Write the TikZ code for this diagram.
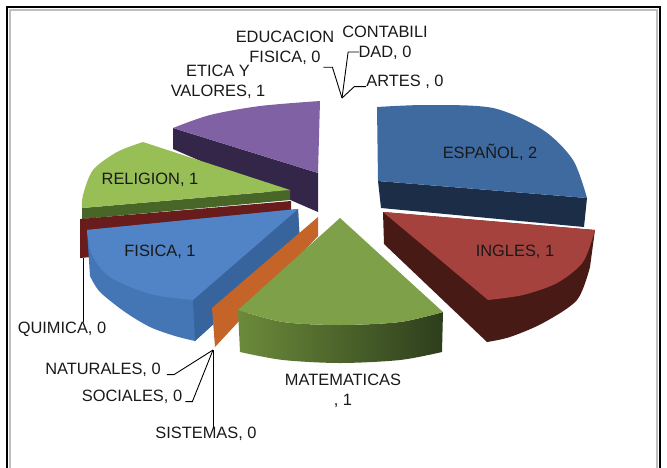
\documentclass[tikz,border=0pt]{standalone}
\usepackage{fontspec}
\setmainfont{Liberation Sans}
\usepackage{xcolor}
\definecolor{espTop}{RGB}{62,106,160}
\definecolor{espSide}{RGB}{28,45,72}
\definecolor{ingTop}{RGB}{166,66,62}
\definecolor{ingSide}{RGB}{72,26,22}
\definecolor{matTop}{RGB}{125,160,72}
\definecolor{matSideL}{RGB}{108,138,58}
\definecolor{matSideR}{RGB}{45,62,28}
\definecolor{fisTop}{RGB}{80,132,198}
\definecolor{fisSide}{RGB}{68,118,182}
\definecolor{fisCut}{RGB}{56,100,158}
\definecolor{quimSide}{RGB}{105,28,28}
\definecolor{relTop}{RGB}{152,190,86}
\definecolor{relSide}{RGB}{72,102,40}
\definecolor{etiTop}{RGB}{128,98,164}
\definecolor{etiSide}{RGB}{52,38,72}
\definecolor{sisSide}{RGB}{196,100,40}
\definecolor{frameGray}{RGB}{190,190,190}
\usepackage{tikz}
\usetikzlibrary{positioning,calc}
\tikzset{%
  pieLabel/.style={%
    font=\fontsize{16.4}{20.5}\selectfont,
    inner sep=0pt,
    align=center,
    text=black!90
  },
  leaderLine/.style={%
    draw=black,
    line width=0.9pt
  },
  frameLine/.style={%
    line width=2.4pt,
    color=black
  }
}

\begin{document}
\begin{tikzpicture}[
                x=1pt, y=-1pt,
                every node/.style={pieLabel}
            ]
            \useasboundingbox (0,0) rectangle (667,467);
            \draw[frameGray, line width=1.6pt] (10,470) -- (10,10) -- (657,10) -- (657,470);
            \draw[frameLine] (7,470) -- (7,7) -- (660,7) -- (660,470);

            % back slices
            \fill[etiSide] (173,128) -- (318,173) -- (318,212) -- (173,149) -- cycle;
            \fill[etiTop] (318,173) -- (173,128) -- plot[smooth] coordinates {(173,128) (210,115) (260,106) (320,101)} -- cycle;

            \fill[espSide] (378,181) -- (587,198) -- (584,227) -- (381,208) -- cycle;
            \fill[espTop] (378,181) -- (377,107) -- plot[smooth] coordinates {(377,107) (427,105) (493,108) (543,130) (573,160) (587,198)} -- cycle;

            \fill[relSide] (82,208) -- (290,190) -- (290,200) -- (82,219) -- cycle;
            \fill[relTop] (290,190) -- (143,142) -- plot[smooth] coordinates {(143,142) (117,152) (93,170) (83,195) (82,208)} -- cycle;

            \fill[quimSide] (80,219) -- (291,201) -- (291,240) -- (80,258) -- cycle;

            % front slices
            \fill[fisSide] (298,209) -- (87,230) -- (90,276) -- plot[smooth] coordinates {(90,276) (100,292) (125,312) (150,327) (175,336) (195,341)} -- (300,245) -- cycle;
            \fill[fisCut] (298,209) -- (193,300) -- (195,341) -- (300,245) -- cycle;
            \fill[fisTop] (298,209) -- (87,230) -- plot[smooth] coordinates {(87,230) (92,255) (110,277) (150,294) (193,300)} -- cycle;

            \fill[sisSide] (318,217) -- (318,236) -- (215,347) -- (212,308) -- cycle;

            \shade[left color=matSideL, right color=matSideR] (238,310) -- plot[smooth] coordinates {(238,310) (283,322) (340,325) (400,322) (443,312)} -- (442,352) -- plot[smooth] coordinates {(442,352) (400,360) (340,363) (283,360) (240,352)} -- cycle;
            \fill[matTop] (340,218) -- (443,312) -- plot[smooth] coordinates {(443,312) (400,322) (340,325) (283,322) (238,310)} -- cycle;

            \fill[ingSide] (383,212) -- (595,230) -- (590,267) -- plot[smooth] coordinates {(590,267) (577,300) (543,323) (510,337) (487,342)} -- (384,244) -- cycle;
            \fill[ingTop] (383,212) -- (595,230) -- plot[smooth] coordinates {(595,230) (583,262) (557,283) (523,295) (488,300)} -- cycle;

            % labels
            \node (lblEsp) at (490,152) {ESPAÑOL, 2};
            \node (lblIng) at (515,252) {INGLES, 1};
            \node (lblMat) at (343,391) {MATEMATICAS\\, 1};
            \node (lblFis) at (160,252) {FISICA, 1};
            \node (lblRel) at (150,180) {RELIGION, 1};
            \node (lblEti) at (218,82) {ETICA Y\\VALORES, 1};
            \node (lblEdu) at (285,48) {EDUCACION\\FISICA, 0};
            \node (lblCont) at (385,43) {CONTABILI\\DAD, 0};
            \node (lblArt) at (405,82) {ARTES , 0};
            \node (lblQuim) at (62,329) {QUIMICA, 0};
            \node (lblNat) at (103,370) {NATURALES, 0};
            \node (lblSoc) at (132,397) {SOCIALES, 0};
            \node (lblSis) at (206,434) {SISTEMAS, 0};

            \coordinate (rimTop) at (342,98);
            \coordinate (rimLow) at (213,350);
            \coordinate (quimTip) at (83,258);

            \draw[leaderLine] ([shift={(-11,2)}]lblEdu.south east) -- ++(9,0) -- (rimTop);
            \draw[leaderLine] ([shift={(17,9)}]lblCont.west) -- ++(-11,0) -- (rimTop);
            \draw[leaderLine] (lblArt.base west) -- ++(-12,0) -- (rimTop);
            \draw[leaderLine] (lblQuim.north -| quimTip) -- (quimTip);
            \draw[leaderLine] ([xshift=6pt]lblNat.base east) -- ++(7,0) -- (rimLow);
            \draw[leaderLine] ([xshift=3pt]lblSoc.base east) -- ++(7,0) -- (rimLow);
            \draw[leaderLine] (lblSis.north -| rimLow) -- (rimLow);
        \end{tikzpicture}
\end{document}
